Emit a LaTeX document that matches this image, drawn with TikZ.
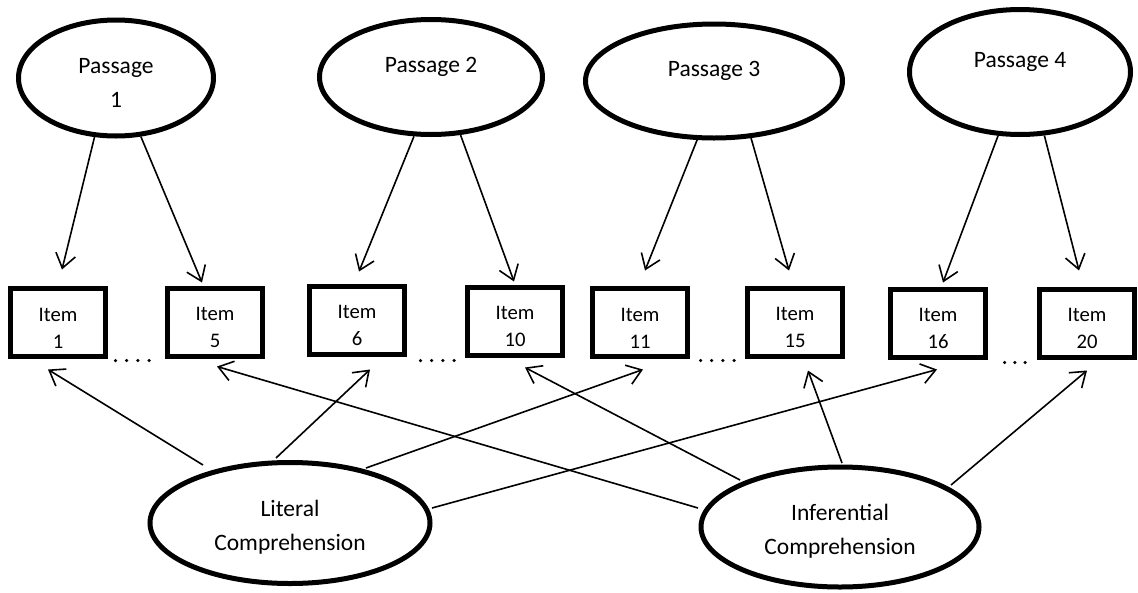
\documentclass[tikz,border=0pt]{standalone}
\usepackage{fontspec}
\setmainfont{Carlito}
\usetikzlibrary{shapes.geometric,arrows.meta}
\begin{document}
\begin{tikzpicture}[x=1pt,y=-1pt,
  latent/.style={ellipse, draw, line width=5pt, align=center, inner sep=0pt,
    font=\fontsize{23.5}{34}\selectfont},
  passage/.style={latent, text height=58pt},
  factor/.style={latent, text height=58.5pt},
  itembox/.style={rectangle, draw, line width=5pt, minimum width=95pt,
    minimum height=68pt, align=center, inner sep=0pt, text height=52pt,
    font=\fontsize{20.7}{27}\selectfont},
  link/.style={line width=1.6pt, -{Straight Barb[length=14pt,width=20pt]}},
  dots/.style={line width=3.5pt, line cap=round, dash pattern=on 0pt off 11.2pt}]
\useasboundingbox (0,0) rectangle (1138,592);

% passages
\node[passage, minimum width=195pt, minimum height=116pt] (P1) at (116,78) {Passage\\1};
\node[passage, minimum width=223pt, minimum height=115pt] (P2) at (431,77) {Passage 2\\\mbox{}};
\node[passage, minimum width=257pt, minimum height=114pt] (P3) at (714,81) {Passage 3\\\mbox{}};
\node[passage, minimum width=221pt, minimum height=125pt] (P4) at (1020,72) {Passage 4\\\mbox{}};

% items
\node[itembox] (I1) at (58,322) {Item\\1};
\node[itembox] (I5) at (215,322) {Item\\5};
\node[itembox] (I6) at (357,320) {Item\\6};
\node[itembox] (I10) at (515,321) {Item\\10};
\node[itembox] (I11) at (640,322) {Item\\11};
\node[itembox] (I15) at (795,322) {Item\\15};
\node[itembox] (I16) at (938,323) {Item\\16};
\node[itembox] (I20) at (1087,323) {Item\\20};

% comprehension factors
\node[factor, minimum width=280pt, minimum height=121pt] (LC) at (290,523) {Literal\\Comprehension};
\node[factor, minimum width=278pt, minimum height=120pt] (IC) at (840,527) {Inferential\\Comprehension};

% dotted separators
\draw[dots] ([xshift=7.5pt,yshift=-2pt]I1.south east) -- ([xshift=-9.5pt,yshift=-2pt]I5.south west);
\draw[dots] ([xshift=13.5pt,yshift=-4pt]I6.south east) -- ([xshift=-5.5pt,yshift=-3pt]I10.south west);
\draw[dots] ([xshift=10.5pt,yshift=-2pt]I11.south east) -- ([xshift=-5.5pt,yshift=-2pt]I15.south west);
\draw[dots, dash pattern=on 0pt off 10.3pt] ([xshift=16.5pt,yshift=-3pt]I16.south east) -- ([xshift=-6.5pt,yshift=-3pt]I20.south west);

% passage loadings
\draw[link] (P1.-110) -- ([xshift=4pt,yshift=16pt]I1.north);
\draw[link] (P1.-67) -- ([xshift=-13pt,yshift=3pt]I5.north);
\draw[link] (P2.-106) -- ([xshift=2pt,yshift=12pt]I6.north);
\draw[link] (P2.-63) -- ([xshift=-1pt,yshift=3pt]I10.north);
\draw[link] (P3.-106) -- ([xshift=5pt,yshift=15pt]I11.north);
\draw[link] (P3.-57) -- ([xshift=-6pt,yshift=15pt]I15.north);
\draw[link] (P4.-109) -- ([xshift=5pt,yshift=4pt]I16.north);
\draw[link] (P4.-69) -- ([xshift=-8pt,yshift=16pt]I20.north);

% literal comprehension loadings
\draw[link] ([xshift=-87pt,yshift=58pt]LC.center) -- ([xshift=-10pt,yshift=-11pt]I1.south);
\draw[link] ([xshift=-14pt,yshift=65pt]LC.center) -- ([xshift=13pt,yshift=-13pt]I6.south);
\draw[link] ([xshift=76pt,yshift=55pt]LC.center) -- ([xshift=3pt,yshift=-11pt]I11.south);
\draw[link] ([xshift=142pt,yshift=15pt]LC.center) -- ([xshift=-1pt,yshift=-10pt]I16.south);

% inferential comprehension loadings
\draw[link] ([xshift=-142pt,yshift=19pt]IC.center) -- ([xshift=2pt,yshift=-8pt]I5.south);
\draw[link] ([xshift=-100pt,yshift=47pt]IC.center) -- ([xshift=10pt,yshift=-10pt]I10.south);
\draw[link] ([xshift=2pt,yshift=64pt]IC.center) -- ([xshift=13pt,yshift=-12pt]I15.south);
\draw[link] ([xshift=111pt,yshift=42pt]IC.center) -- ([xshift=0pt,yshift=-11pt]I20.south);
\end{tikzpicture}
\end{document}
